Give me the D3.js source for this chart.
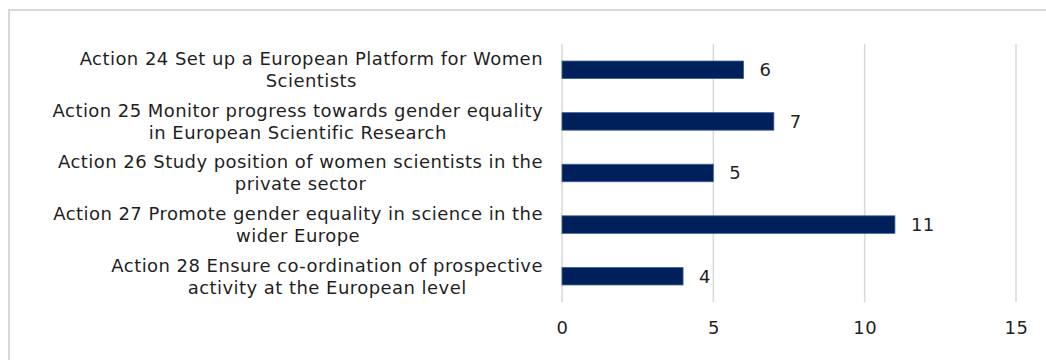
<!DOCTYPE html>
<html>
<head>
<meta charset="utf-8">
<script src="https://cdn.jsdelivr.net/npm/d3@7"></script>
<style>
  html, body { margin: 0; padding: 0; background: #fff; }
  svg { display: block; }
  text { font-family: "DejaVu Sans", Verdana, sans-serif; fill: #1f1f1f; letter-spacing: 0.45px; }
</style>
</head>
<body>
<svg id="chart" width="1046" height="360"></svg>
<script>
// Action categories (each entry is the list of wrapped lines)
const categories = [
  ["Action 24 Set up a European Platform for Women", "Scientists"],
  ["Action 25 Monitor progress towards gender equality", "in European Scientific Research"],
  ["Action 26 Study position of women scientists in the", "private sector"],
  ["Action 27 Promote gender equality in science in the", "wider Europe"],
  ["Action 28 Ensure co-ordination of prospective", "activity at the European level"]
];
const values = [6, 7, 5, 11, 4];
const xTicks = [0, 5, 10, 15];

const svg = d3.select("#chart");
const W = 1046, H = 360;
const margin = { left: 562, right: 30, top: 44, bottom: 58 };
const fontSize = 18;
const lineGap = 22;

// outer chart frame
svg.append("rect")
  .attr("x", 9).attr("y", 10)
  .attr("width", W).attr("height", H)
  .attr("fill", "none")
  .attr("stroke", "#d9d9d9")
  .attr("stroke-width", 2);

const x = d3.scaleLinear().domain([0, 15]).range([margin.left, W - margin.right]);
const y = d3.scaleBand()
  .domain(d3.range(categories.length))
  .range([margin.top, H - margin.bottom])
  .paddingInner(0.66).paddingOuter(0.33);

// vertical gridlines
svg.append("g")
  .selectAll("line")
  .data(xTicks)
  .join("line")
  .attr("x1", d => x(d)).attr("x2", d => x(d))
  .attr("y1", margin.top).attr("y2", H - margin.bottom)
  .attr("stroke", "#d9d9d9")
  .attr("stroke-width", 1.5);

// x axis tick labels
const xAxis = d3.axisBottom(x).tickValues(xTicks).tickSize(0).tickPadding(0);
const gx = svg.append("g")
  .attr("transform", `translate(0,${H - margin.bottom + 19})`)
  .call(xAxis);
gx.select(".domain").remove();
gx.selectAll("text")
  .attr("font-size", fontSize)
  .attr("font-family", "DejaVu Sans, Verdana, sans-serif")
  .attr("fill", "#1f1f1f");

// bars
svg.append("g")
  .selectAll("rect")
  .data(values)
  .join("rect")
  .attr("x", x(0))
  .attr("y", (d, i) => y(i))
  .attr("width", d => x(d) - x(0))
  .attr("height", y.bandwidth())
  .attr("fill", "#00205b")
  .attr("stroke", "#40609a")
  .attr("stroke-width", 0.8);

// value labels
svg.append("g")
  .selectAll("text")
  .data(values)
  .join("text")
  .attr("x", d => x(d) + 16)
  .attr("y", (d, i) => y(i) + y.bandwidth() / 2)
  .attr("dy", "0.36em")
  .attr("font-size", fontSize)
  .text(d => d);

// category labels: lines centred within a block right-aligned to the axis
const labelRight = 543;
const lg = svg.append("g");
categories.forEach((lines, i) => {
  const cy = y(i) + y.bandwidth() / 2;
  const g = lg.append("g");
  const texts = lines.map((ln, k) =>
    g.append("text")
      .attr("font-size", fontSize)
      .attr("text-anchor", "middle")
      .attr("y", cy + (k - (lines.length - 1) / 2) * lineGap)
      .attr("dy", "0.36em")
      .text(ln)
  );
  const wMax = d3.max(texts, t => t.node().getComputedTextLength());
  texts.forEach(t => t.attr("x", labelRight - wMax / 2));
});
</script>
</body>
</html>
